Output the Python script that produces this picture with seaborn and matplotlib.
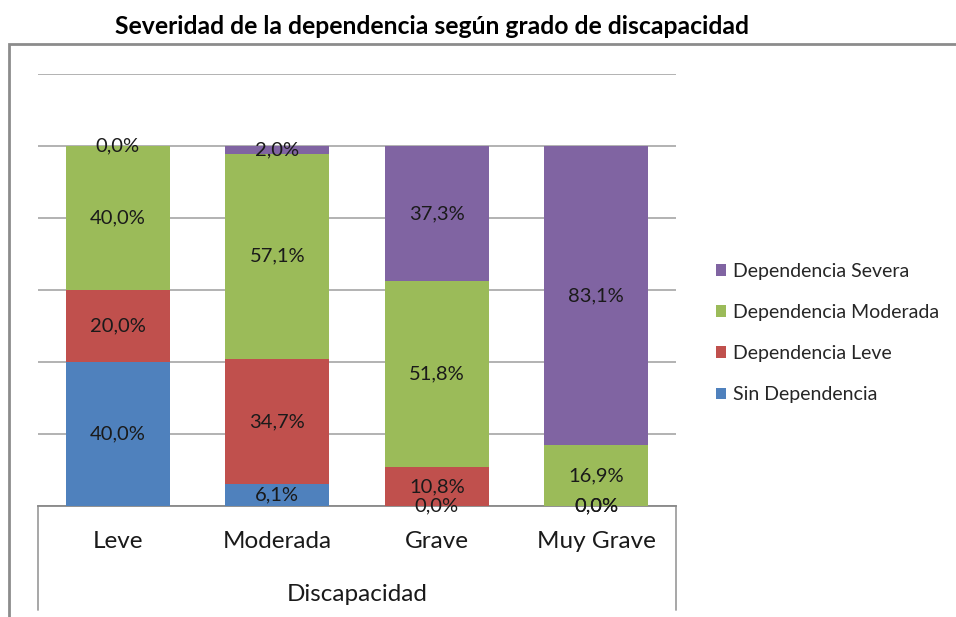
"""Stacked 100% bar chart: severidad de la dependencia segun grado de discapacidad."""

import matplotlib.pyplot as plt
import numpy as np
import pandas as pd
import seaborn as sns
from matplotlib.lines import Line2D
from matplotlib.patches import Rectangle

categories = ["Leve", "Moderada", "Grave", "Muy Grave"]
series_names = [
    "Sin Dependencia",
    "Dependencia Leve",
    "Dependencia Moderada",
    "Dependencia Severa",
]
sin_dep = [40.0, 6.1, 0.0, 0.0]
dep_leve = [20.0, 34.7, 10.8, 0.0]
dep_moderada = [40.0, 57.1, 51.8, 16.9]
dep_severa = [0.0, 2.0, 37.3, 83.1]
colors = ["#4F81BD", "#C0504D", "#9BBB59", "#8064A2"]

df = pd.DataFrame(
    {"cat": categories, series_names[0]: sin_dep, series_names[1]: dep_leve,
     series_names[2]: dep_moderada, series_names[3]: dep_severa}
)

sns.set_theme(style="white")
plt.rcParams["font.family"] = ["Lato", "DejaVu Sans"]

fig = plt.figure(figsize=(9.56, 6.17), dpi=100)
ax = fig.add_axes([38 / 956, 1 - 506 / 617, (676 - 38) / 956, (506 - 74) / 617])

bottom = np.zeros(len(categories))
for name, color in zip(series_names, colors):
    vals = df[name].to_numpy()
    sns.barplot(x=df["cat"], y=vals, bottom=bottom, color=color, width=0.65,
                saturation=1, linewidth=0, ax=ax, label=name, zorder=3)
    for i, v in enumerate(vals):
        ax.text(i, bottom[i] + v / 2, f"{v:.1f}%".replace(".", ","),
                ha="center", va="center", fontsize=14.5, color="#1a1a1a",
                zorder=4, clip_on=False)
    bottom = bottom + vals

handles, labels = ax.get_legend_handles_labels()
if ax.legend_ is not None:
    ax.legend_.remove()

ax.set_ylim(0, 120)
ax.set_xlim(-0.5, 3.5)
ax.set_yticks(np.arange(0, 121, 20))
ax.set_yticklabels([])
ax.yaxis.grid(True, color="#A6A6A6", linewidth=1.2, zorder=0)
ax.tick_params(axis="both", length=0)
ax.tick_params(axis="x", labelsize=17.5, pad=18, colors="#1a1a1a")
for s in ["top", "right", "left"]:
    ax.spines[s].set_visible(False)
ax.spines["bottom"].set_color("#888888")
ax.spines["bottom"].set_linewidth(1.3)
ax.set_xlabel("Discapacidad", fontsize=17.5, labelpad=23, color="#1a1a1a")
ax.set_ylabel("")

# axis box below the plot
for xpos in (0.0, 1.0):
    ax.add_line(Line2D([xpos, xpos], [0, -104 / 432], transform=ax.transAxes,
                       color="#A0A0A0", linewidth=1.3, clip_on=False))

fig.legend(handles[::-1], labels[::-1], loc="center left",
           bbox_to_anchor=(698 / 956, 1 - 333 / 617), frameon=False,
           fontsize=14, handlelength=0.55, handleheight=0.55,
           handletextpad=0.35, labelspacing=1.25)

# chart area border
fig.patches.append(Rectangle((9 / 956, -0.05), 1.0, 1 - 44 / 617 + 0.05,
                             transform=fig.transFigure, fill=False,
                             edgecolor="#8C8C8C", linewidth=2))

fig.text(432 / 956, 1 - 26 / 617, "Severidad de la dependencia según grado de discapacidad",
         ha="center", va="center", fontsize=17.8, fontweight="bold", color="black")

fig.savefig("out.png", dpi=100)
plt.close(fig)
